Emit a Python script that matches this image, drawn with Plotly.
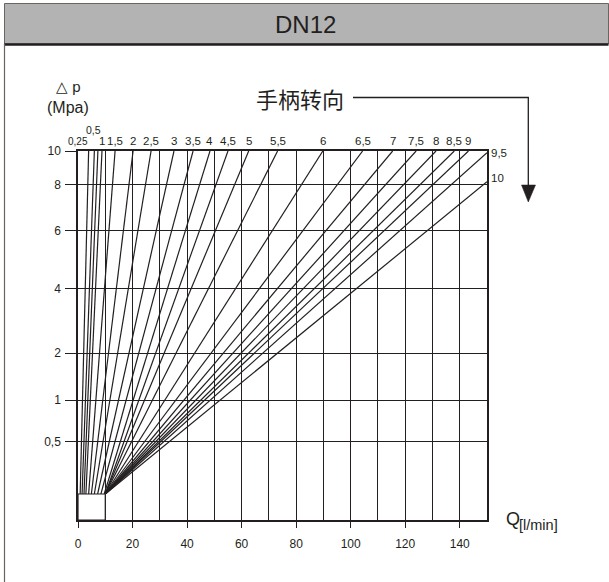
import numpy as np
import plotly.graph_objects as go

W, H = 609, 582
INK = "#231f20"
FONT = "Liberation Sans, Arial, sans-serif"

# handle turns written at the end of every curve ("" = unlabeled curve)
TURNS = ["0,25", "0,5", "", "1", "1,5", "2", "2,5", "3", "3,5", "4", "4,5",
         "5", "5,5", "6", "6,5", "7", "7,5", "8", "8,5", "9", "9,5", "10"]
# flow where each curve leaves the small box (l/min)
START_Q = [0.8, 1.5, 2.2, 2.9, 3.9, 4.9, 6.0, 7.2, 8.4, 9.6, 10, 10, 10,
           10, 10, 10, 10, 10, 10, 10, 10, 10]
# end of each curve: flow (l/min) and pressure drop (MPa)
END_Q = [3.9, 6.0, 7.3, 8.8, 13.6, 20.2, 26.8, 35.2, 42.2, 48.4, 55.0, 62.6, 73.2,
         89.8, 104.4, 115.4, 124.0, 131.3, 138.0, 143.2, 150, 150]
END_P = [10] * 20 + [9.9, 8.15]

# pressure axis of the chart is not linear: pressure value -> axis position
P_TICKS = [0.5, 1, 2, 4, 6, 8, 10]
P_TICKTEXT = ["0,5", "1", "2", "4", "6", "8", "10"]
P_KNOTS = [0, 0.5, 1, 2, 4, 6, 8, 10]
POS_KNOTS = [0, 78.3, 120, 167, 231.7, 289.7, 335.7, 369]
BOX_Q = 10
BOX_P = 0.166

Q_TICKS = [0, 20, 40, 60, 80, 100, 120, 140]


def pos(p):
    return np.interp(p, P_KNOTS, POS_KNOTS)


# plot area in pixels
L, R, T, B = 78, 487, 151, 520


def px(x):
    return (x - L) / (R - L)


def py(y):
    return (B - y) / (B - T)


def note(x, y, text, size, xanchor="center", yanchor="middle", family=FONT):
    fig.add_annotation(xref="paper", yref="paper", x=px(x), y=py(y), text=text,
                       showarrow=False, xanchor=xanchor, yanchor=yanchor,
                       font=dict(size=size, color=INK, family=family))


fig = go.Figure()

for i, lab in enumerate(TURNS):
    fig.add_trace(go.Scatter(
        x=[START_Q[i], END_Q[i]],
        y=[pos(BOX_P), pos(END_P[i])],
        mode="lines", line=dict(color=INK, width=1.2),
        hoverinfo="skip", showlegend=False))
    if not lab:
        continue
    if END_P[i] >= 10 and END_Q[i] < 150:
        xs, ys, size = 0, 2, 11.5
        if lab == "0,25":
            xs, size = -11, 10
        if lab == "0,5":
            xs, ys, size = -1, 13, 10.5
        fig.add_annotation(x=END_Q[i], y=pos(END_P[i]), text=lab, showarrow=False,
                           xanchor="center", yanchor="bottom", xshift=xs, yshift=ys,
                           font=dict(size=size, color=INK, family=FONT))
    else:
        ys = 0 if lab == "9,5" else 4
        fig.add_annotation(x=END_Q[i], y=pos(END_P[i]), text=lab, showarrow=False,
                           xanchor="left", yanchor="middle", xshift=2, yshift=ys,
                           font=dict(size=11.5, color=INK, family=FONT))

# small box at the origin
fig.add_shape(type="rect", x0=0, x1=BOX_Q, y0=0, y1=pos(BOX_P),
              line=dict(color=INK, width=1.2), fillcolor="white", layer="above")

# header band and frame
fig.add_shape(type="rect", xref="paper", yref="paper",
              x0=px(4.5), x1=px(608.5), y0=py(44), y1=py(3.5),
              fillcolor="#b3b3b3", line=dict(color="#6b6461", width=1), layer="below")
fig.add_shape(type="line", xref="paper", yref="paper",
              x0=px(4.5), x1=px(608.5), y0=py(44.5), y1=py(44.5),
              line=dict(color=INK, width=2.5))
fig.add_shape(type="line", xref="paper", yref="paper",
              x0=px(4.5), x1=px(4.5), y0=py(44), y1=py(582),
              line=dict(color="#6b6461", width=1.2))
note(305, 24, "DN12", 24)

# handle direction arrow
note(346, 98, "手柄转向", 22, xanchor="right", family="Noto Sans CJK SC")
fig.add_shape(type="path", xref="paper", yref="paper",
              path=f"M {px(353)} {py(97.5)} L {px(528.3)} {py(97.5)} L {px(528.3)} {py(186)}",
              line=dict(color=INK, width=1.3))
fig.add_shape(type="path", xref="paper", yref="paper",
              path=f"M {px(521.5)} {py(185)} L {px(535.5)} {py(185)} L {px(528.3)} {py(202)} Z",
              line=dict(color=INK, width=0.5), fillcolor=INK)

# axis titles
note(68, 97, "△ p", 15, yanchor="bottom")
note(68, 97, "(Mpa)", 16, yanchor="top")
note(504, 518.5, "Q", 18, xanchor="left")
note(517, 525, "[l/min]", 14.5, xanchor="left")

fig.update_xaxes(range=[0, 150], tickvals=Q_TICKS, ticktext=[str(v) for v in Q_TICKS],
                 ticks="outside", ticklen=6, tickwidth=1.2, tickcolor=INK,
                 showgrid=True, gridcolor=INK, gridwidth=1.2,
                 minor=dict(tickvals=list(range(10, 150, 20)), showgrid=True,
                            gridcolor=INK, gridwidth=1.2, ticks=""),
                 showline=True, mirror=True, linecolor=INK, linewidth=1.5,
                 zeroline=False, ticklabelstandoff=6,
                 tickfont=dict(size=12, color=INK, family=FONT))
fig.update_yaxes(range=[0, 369], tickvals=[pos(p) for p in P_TICKS], ticktext=P_TICKTEXT,
                 ticks="outside", ticklen=11, tickwidth=1.2, tickcolor=INK,
                 showgrid=True, gridcolor=INK, gridwidth=1.2,
                 showline=True, mirror=True, linecolor=INK, linewidth=1.5,
                 zeroline=False, ticklabelstandoff=2,
                 tickfont=dict(size=12, color=INK, family=FONT))

fig.update_layout(width=W, height=H, autosize=False,
                  margin=dict(l=L, r=W - R, t=T, b=H - B, pad=0),
                  paper_bgcolor="white", plot_bgcolor="white")

fig.write_html("out.html", config={"displayModeBar": False},
               post_script="document.body.style.margin='0';")
